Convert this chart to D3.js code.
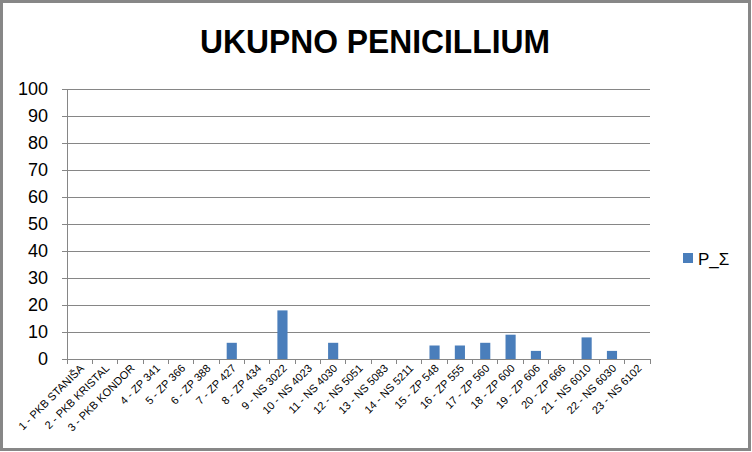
<!DOCTYPE html>
<html><head><meta charset="utf-8">
<script src="https://cdn.jsdelivr.net/npm/d3@7"></script>
<style>body{margin:0;background:#fff}svg{display:block}</style>
</head><body>
<script>
const categories = ["1 - PKB STANIŠA","2 - PKB KRISTAL","3 - PKB KONDOR","4 - ZP 341","5 - ZP 366","6 - ZP 388","7 - ZP 427","8 - ZP 434","9 - NS 3022","10 - NS 4023","11 - NS 4030","12 - NS 5051","13 - NS 5083","14 - NS 5211","15 - ZP 548","16 - ZP 555","17 - ZP 560","18 - ZP 600","19 - ZP 606","20 - ZP 666","21 - NS 6010","22 - NS 6030","23 - NS 6102"];
const values = [0,0,0,0,0,0,6,0,18,0,6,0,0,0,5,5,6,9,3,0,8,3,0];
const yTicks = [0,10,20,30,40,50,60,70,80,90,100];
const seriesName = "P_Σ";
const title = "UKUPNO PENICILLIUM";

const W = 752, H = 452;
const svg = d3.select("body").append("svg").attr("width", W).attr("height", H);
svg.append("rect").attr("x",1.5).attr("y",1.5).attr("width",W-4).attr("height",H-4)
  .attr("fill","#fff").attr("stroke","#878787").attr("stroke-width",3);

const m = {left:67, right:650, top:89, bottom:359};
const x = d3.scaleBand().domain(categories).range([m.left, m.right]).paddingInner(0.6).paddingOuter(0.3);
const xb = d3.scaleBand().domain(categories).range([m.left, m.right]);
const y = d3.scaleLinear().domain([0,100]).range([m.bottom, m.top]);

// gridlines
svg.append("g").selectAll("line").data(yTicks.filter(d=>d>0)).join("line")
  .attr("x1", m.left).attr("x2", m.right).attr("y1", d=>y(d)).attr("y2", d=>y(d))
  .attr("stroke","#868686").attr("stroke-width",1).attr("shape-rendering","crispEdges");

// y axis
const ya = svg.append("g").attr("transform",`translate(${m.left},0)`)
  .call(d3.axisLeft(y).tickValues(yTicks).tickSize(5).tickPadding(14));
ya.select(".domain").attr("stroke","#868686").attr("shape-rendering","crispEdges");
ya.selectAll(".tick line").attr("stroke","#868686").attr("shape-rendering","crispEdges");
ya.selectAll("text").attr("font-family","Liberation Sans, Arial, sans-serif").attr("font-size",18).attr("fill","#000");

// bars
svg.append("g").selectAll("rect").data(values).join("rect")
  .attr("x",(d,i)=>xb(categories[i]) + xb.bandwidth()/2 - x.bandwidth()/2)
  .attr("width", x.bandwidth())
  .attr("y", d=>y(d)).attr("height", d=>y(0)-y(d))
  .attr("fill","#4a7ebb");

// x axis
const xa = svg.append("g").attr("transform",`translate(0,${m.bottom})`)
  .call(d3.axisBottom(xb).tickSize(0).tickFormat(""));
xa.select(".domain").attr("stroke","#868686").attr("shape-rendering","crispEdges");
xa.selectAll(".tick").remove();
const edges = categories.map(c=>xb(c)).concat([m.right]);
svg.append("g").selectAll("line").data(edges).join("line")
  .attr("x1",d=>d).attr("x2",d=>d).attr("y1",m.bottom).attr("y2",m.bottom+5)
  .attr("stroke","#868686").attr("shape-rendering","crispEdges");

svg.append("g").selectAll("text").data(categories).join("text")
  .attr("transform", d=>`translate(${xb(d)+xb.bandwidth()/2+5},${m.bottom+10}) rotate(-45)`)
  .attr("text-anchor","end")
  .attr("font-family","Liberation Sans Narrow, Liberation Sans, Arial, sans-serif")
  .attr("font-size",11).attr("fill","#000").text(d=>d);

// title
svg.append("text").attr("x",375).attr("y",53).attr("text-anchor","middle")
  .attr("font-family","Liberation Sans Narrow, Liberation Sans, Arial, sans-serif")
  .attr("font-weight","bold").attr("font-size",33)
  .attr("textLength",350).attr("lengthAdjust","spacingAndGlyphs")
  .text(title);

// legend
svg.append("rect").attr("x",683).attr("y",253).attr("width",10).attr("height",10).attr("fill","#4a7ebb");
svg.append("text").attr("x",698).attr("y",265)
  .attr("font-family","Liberation Sans, Arial, sans-serif").attr("font-size",17).attr("fill","#000")
  .text(seriesName);
</script>
</body></html>
